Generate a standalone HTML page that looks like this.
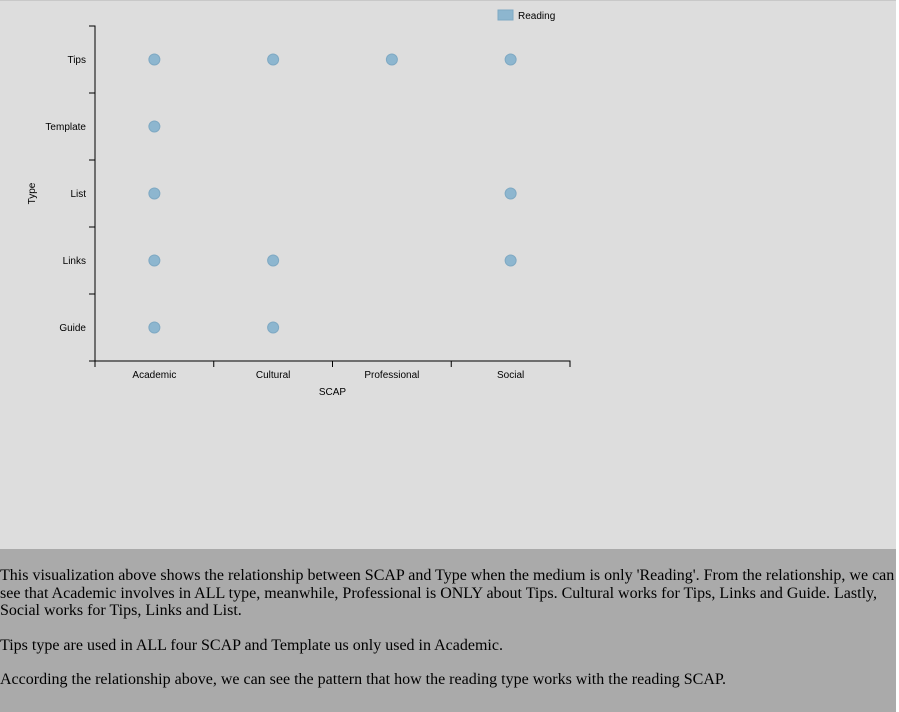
<!DOCTYPE html>
<html><head><meta charset="utf-8">
<style>
html,body{margin:0;padding:0;background:#fff;}
body{width:899px;height:712px;overflow:hidden;}
#top{width:896px;height:549px;background:#dddddd;border-top:1px solid #c8c8c8;box-sizing:border-box;position:relative;}
#desc{width:896px;height:163px;background:#aaaaaa;overflow:hidden;font-family:"Liberation Serif",serif;font-size:16px;line-height:17.5px;color:#000;}
#desc p{margin:17px 0;}
#desc p:first-child{margin-top:18px;}
svg text{font-family:"Liberation Sans",sans-serif;font-size:10px;fill:#000;}
</style></head>
<body>
<div id="top">
<svg id="chart" width="896" height="548"></svg>
</div>
<div id="desc">
<p>This visualization above shows the relationship between SCAP and Type when the medium is only 'Reading'. From the relationship, we can see that Academic involves in ALL type, meanwhile, Professional is ONLY about Tips. Cultural works for Tips, Links and Guide. Lastly, Social works for Tips, Links and List.</p>
<p>Tips type are used in ALL four SCAP and Template us only used in Academic.</p>
<p>According the relationship above, we can see the pattern that how the reading type works with the reading SCAP.</p>
</div>
<script>
const xCategories = ["Academic","Cultural","Professional","Social"];
const yCategories = ["Tips","Template","List","Links","Guide"];
const pointScap = ["Academic","Cultural","Professional","Social","Academic","Academic","Social","Academic","Cultural","Social","Academic","Cultural"];
const pointType = ["Tips","Tips","Tips","Tips","Template","List","List","Links","Links","Links","Guide","Guide"];

const NS="http://www.w3.org/2000/svg";
const svg=document.getElementById('chart');
const X0=95,X1=570,Y0=25,Y1=360;
const bw=(X1-X0)/xCategories.length, bh=(Y1-Y0)/yCategories.length;
function xs(c){return X0+bw*(xCategories.indexOf(c)+0.5);}
function ys(c){return Y0+bh*(yCategories.indexOf(c)+0.5);}
function mk(t,a){const e=document.createElementNS(NS,t);for(const k in a)e.setAttribute(k,a[k]);svg.appendChild(e);return e;}

let e;
e=mk('path',{d:`M${X0-6},${Y0}H${X0}V${Y1}H${X0-6}`,fill:'none',stroke:'#000','stroke-width':1});


for(let i=1;i<yCategories.length;i++){
  e=mk('line',{x1:X0-6,x2:X0,y1:Y0+bh*i,y2:Y0+bh*i,stroke:'#000'});
  
  
}
yCategories.forEach(c=>{
  e=mk('text',{x:X0-9,y:ys(c)+3.5,'text-anchor':'end'});e.textContent=c;
  
  
});
e=mk('path',{d:`M${X0},${Y1+6}V${Y1}H${X1}V${Y1+6}`,fill:'none',stroke:'#000'});


for(let i=1;i<xCategories.length;i++){
  e=mk('line',{x1:X0+bw*i,x2:X0+bw*i,y1:Y1,y2:Y1+6,stroke:'#000'});
  
  
}
xCategories.forEach(c=>{
  e=mk('text',{x:xs(c),y:Y1+17,'text-anchor':'middle'});e.textContent=c;
  
  
});
e=mk('text',{x:(X0+X1)/2,y:Y1+34,'text-anchor':'middle'});e.textContent='SCAP';


e=mk('text',{x:0,y:0,'text-anchor':'middle',transform:`translate(35,${(Y0+Y1)/2}) rotate(-90)`});e.textContent='Type';


pointScap.forEach((s,i)=>{
  e=mk('circle',{cx:xs(s),cy:ys(pointType[i]),r:5.5,fill:'#8db6cf',stroke:'#7fa9c3','stroke-width':1});
  
  
});
e=mk('rect',{x:498,y:9,width:15,height:10,fill:'#8db6cf',stroke:'#7fa9c3'});


e=mk('text',{x:518,y:18});e.textContent='Reading';


</script>
</body></html>
